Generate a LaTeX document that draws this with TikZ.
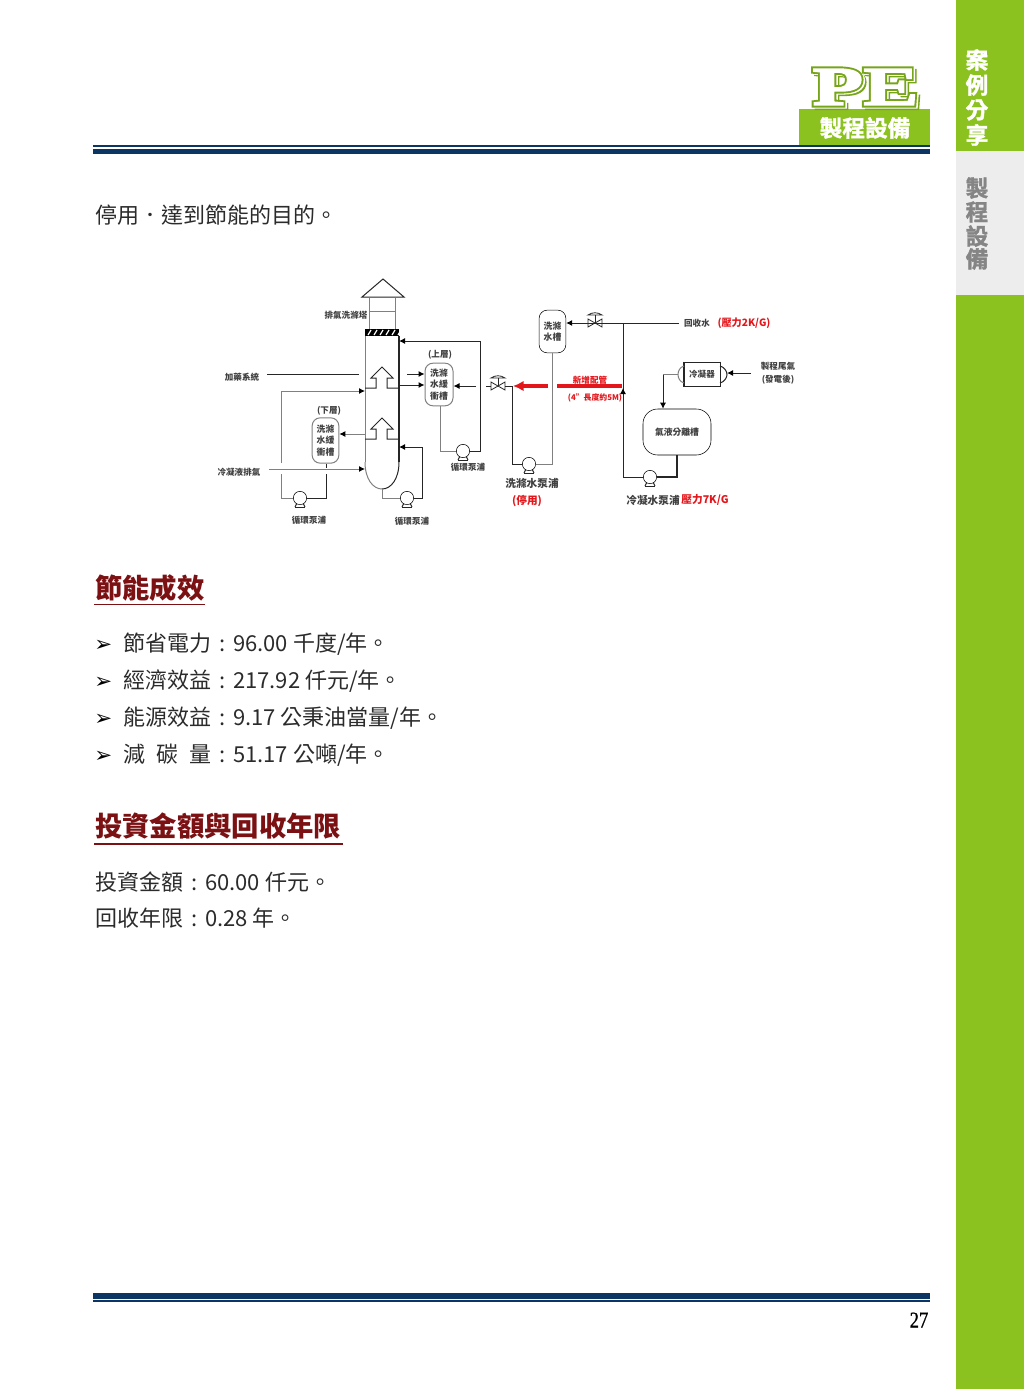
\documentclass[tikz,border=0pt]{standalone}
\usepackage{fontspec}
\setmainfont{Noto Sans CJK TC}
\newfontfamily\symfont{DejaVu Sans}
\newfontfamily\numfont[FakeStretch=.82,FakeBold=.6]{Liberation Serif}
\newfontfamily\heavyfont[FakeBold=1.6]{Noto Sans CJK TC Bold}
\newfontfamily\peoutline[FakeBold=10,FakeStretch=1.52]{Liberation Serif Bold}
\newfontfamily\pefill[FakeBold=3,FakeStretch=1.52]{Liberation Serif Bold}
\definecolor{leaf}{HTML}{8CC21F}
\definecolor{navy}{HTML}{0D3563}
\definecolor{wine}{HTML}{7B1113}
\definecolor{sidegray}{HTML}{EDEDED}
\definecolor{markgray}{HTML}{858585}
\definecolor{txtgray}{HTML}{2B2B2B}
\definecolor{alarm}{HTML}{E3161B}
\newcommand{\cn}{\kern.36em:\kern.36em}
\tikzset{
  body/.style={anchor=base west,inner sep=0pt,text=txtgray,font=\fontsize{16.5}{20}\selectfont},
  head/.style={anchor=base west,inner sep=0pt,text=wine,font=\bfseries\fontsize{20.5}{24}\selectfont},
  side/.style={inner sep=0pt,font=\heavyfont\fontsize{17}{20}\selectfont},
  tag/.style={inner sep=0pt,align=center,text=black!75,font=\bfseries\fontsize{6.4}{9.6}\selectfont},
  bigtag/.style={inner sep=0pt,align=center,text=black!75,font=\bfseries\fontsize{8}{10}\selectfont},
  redtag/.style={bigtag,text=alarm},
  drum/.style={draw,rounded corners=6pt,inner sep=0pt,align=center,text=black!75,font=\bfseries\fontsize{6.6}{8.6}\selectfont},
  pumpbody/.style={draw,fill=white,circle,inner sep=0pt,minimum size=10pt},
  pipe/.style={line width=.75pt,black!85},
  feed/.style={pipe,-{Latex[length=4.5pt,width=4.5pt,black]}},
  soft/.style={line width=.75pt,black!50},
  softfeed/.style={soft,-{Latex[length=4.5pt,width=4.5pt,black]}},
  newpipe/.style={line width=2.4pt,alarm},
  logoface/.style={inner sep=0pt,font=\fontsize{41}{41}\selectfont}
}
\usetikzlibrary{arrows.meta}
\begin{document}
\begin{tikzpicture}[x=.75pt,y=-.75pt]
    \useasboundingbox (0,0) rectangle (1024,1389);
    % side band
    \fill[leaf] (956,0) rectangle (1024,1389);
    \fill[sidegray] (956,151) rectangle (1024,295);
    \foreach \c/\y in {案/60,例/85,分/110,享/135}
      \node[side,text=white] (side\c) at (977,\y) {\c};
    \foreach \c/\y in {製/188,程/212,設/236,備/259}
      \node[side,text=markgray] (tab\c) at (977,\y) {\c};
    % page head
    \fill[leaf] (799,109) rectangle (930,145);
    \node[logoface,text=leaf!85!black] (logoD) at (868.5,89.5) {\peoutline PE};
    \node[logoface,text=white] (logoC) at (867,88) {\peoutline PE};
    \node[logoface,text=leaf!85!black] (logoB) at (865.5,87) {\peoutline PE};
    \node[logoface,text=white] (logoA) at (865.5,87) {\pefill PE};
    \node[inner sep=0pt,text=white,font=\heavyfont\fontsize{17}{20}\selectfont] (logoT) at (865,128) {製程設備};
    \fill[navy] (93,145) rectangle (930,147);
    \fill[navy] (93,149) rectangle (930,154);
    \fill[navy] (93,1293) rectangle (930,1299);
    \fill[navy] (93,1300) rectangle (930,1302);
    \node[inner sep=0pt,text=black,font=\numfont\fontsize{17}{18}\selectfont] (pageno) at (919,1320) {27};
    % text
    \node[body] (lead) at (95,223) {停用．達到節能的目的。};
    \node[head] (headA) at (95,598) {節能成效};
    \draw[wine,line width=1.2pt] (94,604.5) -- (205,604.5);
    \foreach \n/\y/\t in {a/651/{節省電力\cn 96.00 千度/年。},
                          b/688/{經濟效益\cn 217.92 仟元/年。},
                          c/725/{能源效益\cn 9.17 公秉油當量/年。},
                          d/762/{減\hspace{.5em}碳\hspace{.5em}量\cn 51.17 公噸/年。}}{
      \node[body,text=black,font=\symfont\fontsize{16}{20}\selectfont] (mark\n) at (94,\y) {➢};
      \node[body] (item\n) at (123,\y) {\t};
    }
    \node[head] (headB) at (95,836) {投資金額與回收年限};
    \draw[wine,line width=1.2pt] (94,844) -- (343,844);
    \node[body] (costA) at (95,890) {投資金額\cn 60.00 仟元。};
    \node[body] (costB) at (95,926) {回收年限\cn 0.28 年。};

    % tower
    \coordinate (TL) at (365,336);
    \coordinate (TR) at (399,336);
    \coordinate (BL) at (365,462);
    \coordinate (BR) at (399,462);
    \coordinate (BM) at (382,489);
    \draw[soft] (TL) -- (BL);
    \draw[pipe,line width=1pt] (TR) -- (BR);
    \draw[soft] (BL) .. controls (365,479) and (373,489) .. (BM);
    \draw[pipe] (BM) .. controls (391,489) and (399,479) .. (BR);
    \fill (365,329) rectangle (399,336);
    \foreach \x in {369,375,...,399}
      \draw[white,line width=.9pt] (\x-1,335) -- (\x+2,330);
    \draw[soft] (369,329) -- (369,298);
    \draw[soft] (395,329) -- (395,298);
    \draw[soft] (369,311) -- (395,311);
    \draw[pipe,fill=white] (383,279) -- (404,297) -- (362,297) -- cycle;
    \node[tag] (lbltower) at (346,315) {排氣洗滌塔};
    % trays
    \foreach \n/\y in {U/367,D/418}{
      \draw[pipe] (365,\y+21) -- (376,\y+21) -- (376,\y+11) -- (371,\y+11) -- (382,\y) -- (393,\y+11) -- (387,\y+11) -- (387,\y+21) -- (399,\y+21);
    }
    % drums
    \node[drum,minimum width=21pt,minimum height=32pt,soft] (drumU) at (439,384.5) {\textcolor{black!75}{洗滌}\\\textcolor{black!75}{水緩}\\\textcolor{black!75}{衝槽}};
    \node[tag] (lblU) at (440,355) {(上層)};
    \node[drum,minimum width=20pt,minimum height=34pt,soft] (drumD) at (325.5,440.5) {\textcolor{black!75}{洗滌}\\\textcolor{black!75}{水緩}\\\textcolor{black!75}{衝槽}};
    \node[tag] (lblD) at (329,411) {(下層)};
    \node[drum,minimum width=20pt,minimum height=32pt] (tank) at (552.5,331.5) {洗滌\\水槽};
    \node[drum,minimum width=51pt,minimum height=34.5pt,rounded corners=11pt] (sep) at (677,432) {氣液分離槽};
    \node[draw,pipe,minimum width=27pt,minimum height=18.5pt,inner sep=0pt,text=black!75,font=\bfseries\fontsize{6.4}{8}\selectfont] (cond) at (702,374.5) {冷凝器};
    \draw[pipe,line width=1.2pt] (cond.north west) -- (cond.south west);
    \draw[pipe,line width=1.2pt] (cond.north east) -- (cond.south east);
    \coordinate (CL) at (678,374.5);
    \coordinate (CR) at (727,374.5);
    \draw[soft] (684,366) .. controls (680,367) and (678,371) .. (CL) .. controls (678,378) and (680,382) .. (684,383);
    \draw[pipe] (720,366) .. controls (724,367) and (727,371) .. (CR) .. controls (727,378) and (724,382) .. (720,383);
    % pumps
    \foreach \n/\x/\y in {pA/300/498,pB/407/498,pC/463/451,pD/529/464,pE/650/477}{
      \draw[pipe] (\x-5,\y+9) -- (\x+5,\y+9);
      \draw[pipe] (\x-3,\y+5) -- (\x-5,\y+9) (\x+3,\y+5) -- (\x+5,\y+9);
      \node[pumpbody] (\n) at (\x,\y) {};
    }
    \node[tag] (lblpA) at (309,520) {循環泵浦};
    \node[tag] (lblpB) at (412,521) {循環泵浦};
    \node[tag] (lblpC) at (468,467) {循環泵浦};
    \node[bigtag] (lblpD) at (532,483) {洗滌水泵浦};
    \node[redtag] (lblstop) at (527,501) {(停用)};
    \node[bigtag] (lblpE) at (653,500) {冷凝水泵浦};
    \node[redtag] (lblpress) at (705,500) {壓力7K/G};
    % valves
    \foreach \n/\x/\y in {vA/498/386,vB/595/323}{
      \coordinate (\n) at (\x,\y);
      \draw[pipe,line width=.6pt,fill=white] (\x-7,\y-4) -- (\x+7,\y+4) -- (\x+7,\y-4) -- (\x-7,\y+4) -- cycle;
      \draw[pipe,line width=.6pt] (\x,\y) -- (\x,\y-8);
      \draw[pipe,line width=.6pt] (\x-7,\y-8) .. controls (\x-3,\y-11) and (\x+3,\y-11) .. (\x+7,\y-8) -- cycle;
    }
    \coordinate (vAs) at (486,386);
    \draw[pipe] (vAs) -- ++(5,0);
    % left feeds
    \coordinate (chemS) at (267,374);
    \coordinate (chemE) at (359,374);
    \draw[pipe] (chemS) -- (chemE);
    \node[tag] (lblchem) at (242,377) {加藥系統};
    \coordinate (gasS) at (269,469);
    \coordinate (gasE) at (365,469);
    \draw[softfeed] (gasS) -- (gasE);
    \node[tag] (lblgas) at (239,472) {冷凝液排氣};
    % lower loop
    \coordinate (LA) at (281,391);
    \coordinate (LB) at (365,391);
    \coordinate (LC) at (281,463);
    \coordinate (LD) at (281,474);
    \coordinate (LE) at (281,498);
    \coordinate (LF) at (326,498);
    \coordinate (LG) at (326,474);
    \coordinate (LH) at (326,468);
    \draw[softfeed] (LC) -- (LA) -- (LB);
    \draw[soft] (LD) -- (LE) -- (pA);
    \draw[pipe] (pA) -- (LF) -- (LG);
    \draw[pipe] (drumD.south -| LH) -- (LH);
    \coordinate (DA) at (365,434);
    \draw[softfeed] (DA) -- (drumD.east |- DA);
    % tower bottom loop
    \coordinate (PA) at (382,498);
    \coordinate (PB) at (422,498);
    \coordinate (PC) at (422,447);
    \coordinate (PD) at (399,447);
    \draw[soft] (BM) -- (PA) -- (pB);
    \draw[feed] (pB) -- (PB) -- (PC) -- (PD);
    % upper drum
    \coordinate (UA) at (407,374);
    \coordinate (UB) at (399,385);
    \coordinate (UC) at (476,386);
    \draw[feed] (UA) -- (drumU.west |- UA);
    \draw[feed] (UB) -- (drumU.west |- UB);
    \draw[feed] (UC) -- (drumU.east |- UC);
    \coordinate (RA) at (440,451);
    \coordinate (RB) at (480,451);
    \coordinate (RC) at (480,341);
    \coordinate (RD) at (399,341);
    \draw[soft] (drumU.south -| RA) -- (RA) -- (pC);
    \draw[feed] (pC) -- (RB) -- (RC) -- (RD);
    % wash water
    \coordinate (WA) at (512,386);
    \coordinate (WB) at (512,464);
    \coordinate (WC) at (552,464);
    \draw[pipe] (vA) ++(7,0) -- (WA) -- (WB) -- (pD);
    \draw[soft] (pD) -- (WC) -- (tank.south -| WC);
    % recovered water
    \coordinate (JA) at (623,323);
    \coordinate (JB) at (623,477);
    \coordinate (JC) at (623,388);
    \coordinate (JD) at (623,400);
    \coordinate (HA) at (679,323);
    \coordinate (SB) at (677,477);
    \draw[pipe] (HA) -- (JA);
    \draw[pipe] (JA) -- (vB);
    \draw[feed] (vB) -- (tank.east |- vB);
    \draw[pipe] (JA) -- (JB) -- (pE);
    \draw[pipe,line width=1pt] (pE) -- (SB) -- (sep.south -| SB);
    \node[tag] (lblback) at (697,323) {回收水};
    \node[redtag,font=\bfseries\fontsize{7.6}{9}\selectfont] (lblbackp) at (744,323) {(壓力2K/G)};
    % new line
    \coordinate (NA) at (622,386);
    \coordinate (NB) at (557,386);
    \coordinate (NC) at (548,386);
    \coordinate (ND) at (513,386);
    \draw[newpipe] (NA) -- (NB);
    \draw[newpipe,-{Latex[length=8pt,width=8pt]}] (NC) -- (ND);
    \draw[feed] (JD) -- (JC);
    \node[tag,text=alarm] (lblnew) at (590,380) {新增配管};
    \node[tag,text=alarm,font=\bfseries\fontsize{5.9}{8}\selectfont] (lblnewb) at (595,398) {(4"長度約5M)};
    % condenser
    \coordinate (GA) at (751,373);
    \coordinate (GB) at (663,374.5);
    \draw[feed] (GA) -- (CR |- GA);
    \draw[soft] (CL) -- (GB);
    \draw[feed] (GB) -- (sep.north -| GB);
    \node[tag] (lblflue) at (778,373) {製程尾氣\\(發電後)};
\end{tikzpicture}
\end{document}
